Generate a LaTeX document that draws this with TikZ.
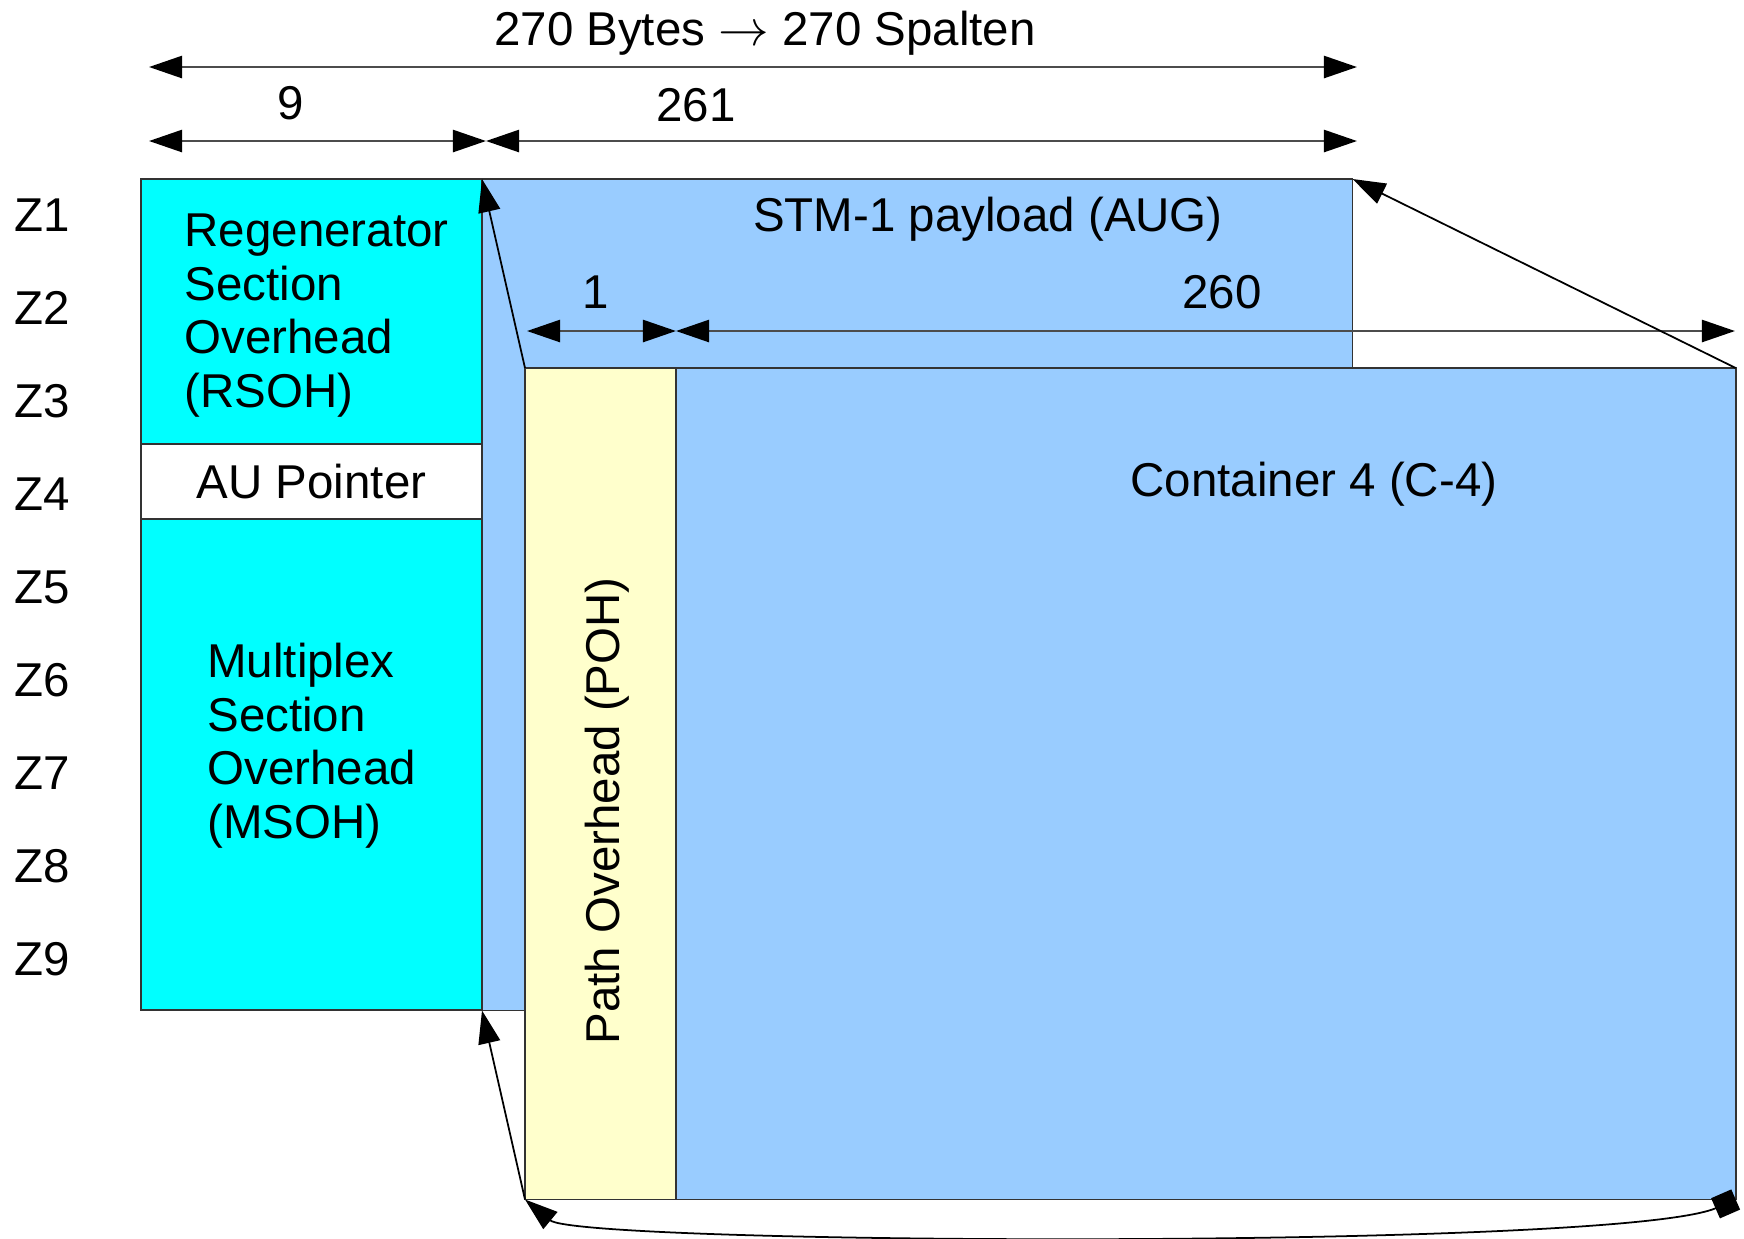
\documentclass[tikz,border=0pt]{standalone}
\usepackage{fontspec}
\setmainfont{Liberation Sans}
\usetikzlibrary{arrows.meta,positioning}
\definecolor{ohcyan}{HTML}{00FFFF}
\definecolor{augblue}{HTML}{99CCFF}
\definecolor{pohyellow}{HTML}{FFFFCC}

\begin{document}
\begin{tikzpicture}[x=0.01cm,y=-0.01cm,>={Triangle[length=0.33cm,width=0.22cm,color=black]},
 font=\fontsize{13.5}{15.2}\selectfont,
 box/.style={draw=black!80,line width=0.5pt,inner sep=0pt,outer sep=0pt,anchor=north west},
 dim/.style={<->,draw=black!70,line width=0.7pt},
 link/.style={->,line width=0.5pt}]
\useasboundingbox (0,0) rectangle (1744,1238);
% section overhead
\node[box,fill=ohcyan,minimum width=3.41cm,minimum height=2.65cm] (rsoh) at (141,179) {};
\node[align=left] (rsohtext) at ([xshift=0.05cm,yshift=-0.04cm]rsoh.center) {Regenerator\\Section\\Overhead\\(RSOH)};
\node[box,fill=white,minimum width=3.41cm,minimum height=0.75cm] (aup) at (141,444) {AU Pointer};
\node[box,fill=ohcyan,minimum width=3.41cm,minimum height=4.91cm] (msoh) at (141,519) {};
\node[align=left] (msohtext) at ([yshift=0.19cm]msoh.center) {Multiplex\\Section\\Overhead\\(MSOH)};
% payload and container
\node[box,fill=augblue,minimum width=8.70cm,minimum height=8.31cm] (aug) at (482,179) {};
\node (augtext) at (988,219) {STM-1 payload (AUG)};
\node[box,fill=augblue,minimum width=12.10cm,minimum height=8.31cm] (c4) at (525,368) {};
\node[box,fill=pohyellow,minimum width=1.51cm,minimum height=8.31cm] (poh) at (525,368) {};
\node[rotate=90] (pohtext) at ([xshift=0.07cm,yshift=-0.27cm]poh.center) {Path Overhead (POH)};
\node (c4text) at (1314,484) {Container 4 (C-4)};
% rows
\foreach \i in {1,...,9}
  \node (z\i) at (42,122+93*\i) {Z\i};
% dimensions
\coordinate (a0) at (149,67);
\coordinate (a1) at (1357,67);
\coordinate (b0) at (149,141);
\coordinate (b1) at (486,141);
\coordinate (b2) at (1357,141);
\coordinate (c0) at (527,331);
\coordinate (c1) at (676,331);
\coordinate (c2) at (1735,331);
\draw[dim] (a0) -- (a1);
\draw[dim] (b0) -- (b1);
\draw[dim] (b1) -- (b2);
\draw[dim] (c0) -- (c1);
\draw[dim] (c1) -- (c2);
\node (total) at (765,33) {270 Bytes $\rightarrow$ 270 Spalten};
\node (n9) at (291,103) {9};
\node (n261) at (696,105) {261};
\node (n1) at (596,292) {1};
\node (n260) at (1222,292) {260};
% mapping
\path[link]
 (c4.north west) edge (aug.north west)
 (c4.north east) edge (aug.north east)
 (c4.south west) edge (aug.south west);
\draw[{Square[length=0.22cm,width=0.22cm]}->,line width=0.5pt]
 (c4.south east) .. controls (1620,1250) and (580,1245) .. (c4.south west);
\end{tikzpicture}
\end{document}
